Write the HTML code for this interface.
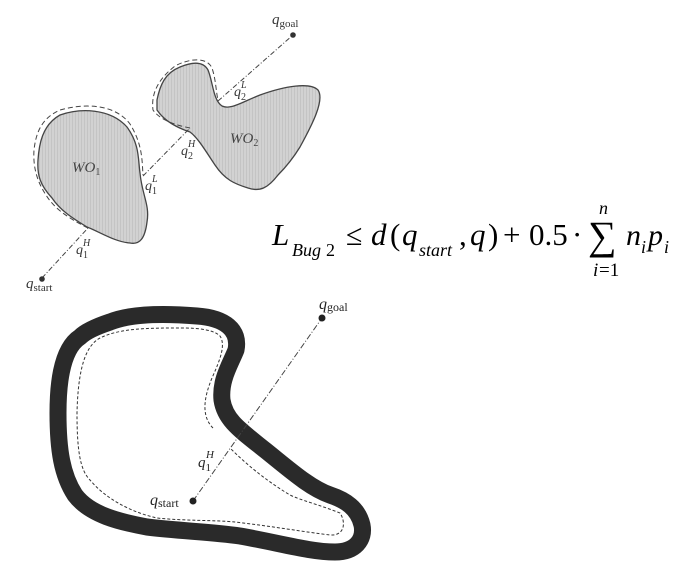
<!DOCTYPE html>
<html><head><meta charset="utf-8"><style>
html,body{margin:0;padding:0;background:#fff;width:699px;height:571px;overflow:hidden}
svg{display:block}
text{font-family:"Liberation Serif",serif}
</style></head><body>
<svg width="699" height="571" viewBox="0 0 699 571">
<defs>
<pattern id="grain" width="3" height="3" patternUnits="userSpaceOnUse"><rect width="3" height="3" fill="#d2d2d2"/><rect width="1" height="3" fill="#c4c4c4"/></pattern>
</defs>
<g>
<path d="M60,115 C80,108 110,108 127,127 C140,145 138,160 140,173 C142,195 150,205 147,222 C145,238 140,245 130,243 C115,242 100,232 87,227 C72,218 60,210 52,198 C40,185 37,175 38,160 C39,145 42,125 60,115 Z" fill="url(#grain)" stroke="#444" stroke-width="1.3"/>
<path d="M157,100 C160,85 165,73 180,67 C192,62 203,61 208,70 C213,82 213,100 222,106 C230,110 240,103 260,95 C285,86 310,82 318,90 C325,100 312,125 300,147 C292,160 285,168 278,175 C268,188 260,192 248,188 C235,184 225,180 215,165 C205,150 198,138 190,132 C178,128 165,122 157,110 Z" fill="url(#grain)" stroke="#444" stroke-width="1.3"/>
<path d="M88,228 C72,220 55,210 46,195 C36,180 33,165 34,150 C36,132 42,118 60,110 C85,103 115,104 130,124 C143,145 142,162 143,175" fill="none" stroke="#444" stroke-width="1" stroke-dasharray="5,3"/>
<path d="M190,128 C175,125 160,120 153,110 C151,95 157,80 175,66 C190,58 207,57 212,68 C216,80 216,92 218,100" fill="none" stroke="#444" stroke-width="1" stroke-dasharray="5,3"/>
<line x1="42" y1="278" x2="88" y2="228" stroke="#444" stroke-width="1" stroke-dasharray="5,2,1,2"/>
<line x1="143" y1="176" x2="190" y2="128" stroke="#444" stroke-width="1" stroke-dasharray="5,2,1,2"/>
<line x1="218" y1="101" x2="293" y2="35" stroke="#444" stroke-width="1" stroke-dasharray="5,2,1,2"/>
<circle cx="42" cy="279" r="2.8" fill="#333"/>
<circle cx="293" cy="35" r="2.8" fill="#333"/>
<text x="272" y="24" font-size="15" font-style="italic" fill="#333">q<tspan font-style="normal" font-size="11" dy="3">goal</tspan></text>
<text x="26" y="288" font-size="15" font-style="italic" fill="#333">q<tspan font-style="normal" font-size="11" dy="3">start</tspan></text>
<text x="72" y="172" font-size="15" font-style="italic" fill="#444">WO<tspan font-style="normal" font-size="10" dy="3">1</tspan></text>
<text x="230" y="143" font-size="15" font-style="italic" fill="#444">WO<tspan font-style="normal" font-size="10" dy="3">2</tspan></text>
<text x="76" y="254" font-size="14" font-style="italic" fill="#333">q<tspan font-size="10" dy="4" font-style="normal">1</tspan><tspan font-size="10" dx="-5" dy="-12">H</tspan></text>
<text x="145" y="190" font-size="14" font-style="italic" fill="#333">q<tspan font-size="10" dy="4" font-style="normal">1</tspan><tspan font-size="10" dx="-5" dy="-12">L</tspan></text>
<text x="181" y="155" font-size="14" font-style="italic" fill="#333">q<tspan font-size="10" dy="4" font-style="normal">2</tspan><tspan font-size="10" dx="-5" dy="-12">H</tspan></text>
<text x="234" y="96" font-size="14" font-style="italic" fill="#333">q<tspan font-size="10" dy="4" font-style="normal">2</tspan><tspan font-size="10" dx="-5" dy="-12">L</tspan></text>
</g>
<g fill="#000">
<text x="272" y="245" font-size="31" font-style="italic">L</text>
<text x="292" y="256" font-size="18" font-style="italic">Bug</text>
<text x="326" y="256" font-size="18">2</text>
<text x="346" y="245" font-size="30">≤</text>
<text x="371" y="245" font-size="31" font-style="italic">d</text>
<text x="390" y="245" font-size="31">(</text>
<text x="402" y="245" font-size="31" font-style="italic">q</text>
<text x="419" y="256" font-size="18" font-style="italic">start</text>
<text x="459" y="245" font-size="31">,</text>
<text x="470" y="245" font-size="31" font-style="italic">q</text>
<text x="488" y="245" font-size="31">)</text>
<text x="503" y="245" font-size="31">+</text>
<text x="529" y="245" font-size="31">0.5</text>
<text x="572" y="245" font-size="31">·</text>
<text x="588" y="249" font-size="40">∑</text>
<text x="599" y="214" font-size="18" font-style="italic">n</text>
<text x="593" y="276" font-size="19" font-style="italic">i</text><text x="599" y="276" font-size="19">=1</text>
<text x="626" y="245" font-size="30" font-style="italic">n</text>
<text x="641" y="253" font-size="18" font-style="italic">i</text>
<text x="648" y="245" font-size="30" font-style="italic">p</text>
<text x="664" y="253" font-size="18" font-style="italic">i</text>
</g>
<g>
<path d="M80,337 C60,350 58,390 58,413 C58,450 62,475 75,495 C90,515 120,522 147,527 C180,531 213,532 240,536 C280,543 310,552 335,552 C355,552 365,540 362,525 C358,508 345,500 330,495 C310,488 290,470 265,450 C240,430 225,420 222,400 C220,380 230,365 236,350 C240,330 225,318 197,316 C160,313 130,314 110,322 C95,327 85,332 80,337 Z" fill="none" stroke="#2a2a2a" stroke-width="17" stroke-linejoin="round"/>
<path d="M213,428 C200,415 205,395 212,378 C220,360 226,345 220,336 C212,328 190,328 180,328 C150,328 120,328 100,338 C85,346 78,370 77,413 C77,450 80,470 90,480 C105,498 130,512 157,518 C185,521 215,520 235,522 C270,526 305,532 330,535 C345,536 346,522 340,513 C320,505 300,500 290,495 C265,480 245,463 230,448" fill="none" stroke="#333" stroke-width="1" stroke-dasharray="3,2"/>
<line x1="193" y1="501" x2="322" y2="318" stroke="#444" stroke-width="1" stroke-dasharray="6,2,1,2"/>
<circle cx="193" cy="501" r="3.5" fill="#222"/>
<circle cx="322" cy="318" r="3.5" fill="#222"/>
<text x="319" y="309" font-size="16" font-style="italic" fill="#222">q<tspan font-style="normal" font-size="12" dy="2">goal</tspan></text>
<text x="150" y="505" font-size="16" font-style="italic" fill="#222">q<tspan font-style="normal" font-size="12" dy="2">start</tspan></text>
<text x="198" y="467" font-size="15" font-style="italic" fill="#222">q<tspan font-size="11" dy="4" font-style="normal">1</tspan><tspan font-size="11" dx="-5" dy="-13">H</tspan></text>
</g>
</svg>
</body></html>
